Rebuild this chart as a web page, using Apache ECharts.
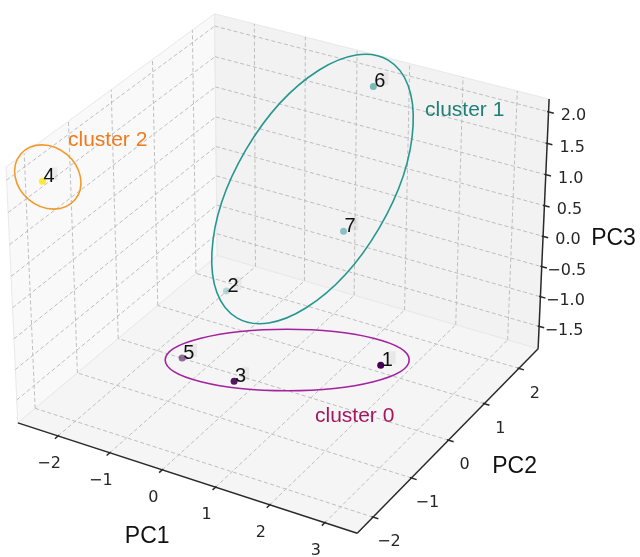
<!DOCTYPE html>
<html>
<head>
<meta charset="utf-8">
<script src="https://cdn.jsdelivr.net/npm/echarts@6/dist/echarts.min.js"></script>
<style>
html,body{margin:0;padding:0;background:#ffffff;}
#chart{width:640px;height:557px;}
</style>
</head>
<body>
<div id="chart"></div>
<script>
// ---------------- data ----------------
const pointLabels = ['1', '2', '3', '4', '5', '6', '7'];
const pc1 = [3.18, -1.74, 0.93, -2.39, -1.14, 0.54, 0.41];
const pc2 = [-1.28, 1.45, -1.84, -2.08, -0.46, 2.25, 1.67];
const pc3 = [-0.01, -1.62, -0.53, 1.91, -1.51, 1.89, -0.20];
const clusterOf = [0, 1, 0, 2, 0, 1, 1];
const clusterNames = ['cluster 0', 'cluster 1', 'cluster 2'];

const pc1Lim = [-2.79, 3.58];
const pc2Lim = [-2.40, 2.57];
const pc3Lim = [-1.88, 2.20];

const pc1Ticks = [-2, -1, 0, 1, 2, 3];
const pc2Ticks = [-2, -1, 0, 1, 2];
const pc3Ticks = [-1.5, -1, -0.5, 0, 0.5, 1, 1.5, 2];
const pc1TickLabels = ['\u22122', '\u22121', '0', '1', '2', '3'];
const pc2TickLabels = ['\u22122', '\u22121', '0', '1', '2'];
const pc3TickLabels = ['\u22121.5', '\u22121.0', '\u22120.5', '0.0', '0.5', '1.0', '1.5', '2.0'];
const axisNames = ['PC1', 'PC2', 'PC3'];

// ---------------- 3D view (matplotlib-like camera) ----------------
const DEG = Math.PI / 180;
const VIEW = { elev: 30, azim: -60, dist: 10 };
const BOX_ASPECT = [4, 4, 3];
const PX_SCALE = 3403, PX_CX = 282.6, PX_CY = 261.5;

const boxNorm = 1.8294640721620434 / Math.hypot(BOX_ASPECT[0], BOX_ASPECT[1], BOX_ASPECT[2]);
const BOX = BOX_ASPECT.map(v => v * boxNorm);
const eR = VIEW.elev * DEG, aR = VIEW.azim * DEG;
const W = [Math.cos(eR) * Math.cos(aR), Math.cos(eR) * Math.sin(aR), Math.sin(eR)];
let U = [-W[1], W[0], 0];
const un = Math.hypot(U[0], U[1], U[2]);
U = U.map(v => v / un);
const V = [W[1] * U[2] - W[2] * U[1], W[2] * U[0] - W[0] * U[2], W[0] * U[1] - W[1] * U[0]];
const LIMS = [pc1Lim, pc2Lim, pc3Lim];
const dot = (a, b) => a[0] * b[0] + a[1] * b[1] + a[2] * b[2];

function proj(p) {
  const q = p.map((v, i) => ((v - LIMS[i][0]) / (LIMS[i][1] - LIMS[i][0]) - 0.5) * BOX[i]);
  const d = dot(W, q);
  const den = VIEW.dist - d;
  return [PX_CX + PX_SCALE * dot(U, q) / den, PX_CY - PX_SCALE * dot(V, q) / den, d];
}

const [x0, x1] = pc1Lim, [y0, y1] = pc2Lim, [z0, z1] = pc3Lim;
const DX = (x1 - x0) / 12, DY = (y1 - y0) / 12;

// panes
const panes = [
  { pts: [[x0, y0, z0], [x0, y1, z0], [x0, y1, z1], [x0, y0, z1]], color: '#f9f9f9' },
  { pts: [[x0, y1, z0], [x1, y1, z0], [x1, y1, z1], [x0, y1, z1]], color: '#f2f2f2' },
  { pts: [[x0, y0, z0], [x1, y0, z0], [x1, y1, z0], [x0, y1, z0]], color: '#f5f5f5' }
];
const paneProj = panes.map(p => p.pts.map(pt => proj(pt).slice(0, 2)));

// grid polylines -> segments
function segsOf(poly) {
  const out = [];
  for (let i = 0; i < poly.length - 1; i++) {
    const a = proj(poly[i]), b = proj(poly[i + 1]);
    out.push([a[0], a[1], b[0], b[1]]);
  }
  return out;
}
let gridSegs = [];
pc1Ticks.forEach(t => { gridSegs = gridSegs.concat(segsOf([[t, y0, z0], [t, y1, z0], [t, y1, z1]])); });
pc2Ticks.forEach(t => { gridSegs = gridSegs.concat(segsOf([[x1, t, z0], [x0, t, z0], [x0, t, z1]])); });
pc3Ticks.forEach(t => { gridSegs = gridSegs.concat(segsOf([[x0, y0, t], [x0, y1, t], [x1, y1, t]])); });

// axis lines + tick marks
let axisSegs = [];
axisSegs = axisSegs.concat(segsOf([[x0, y0, z0], [x1, y0, z0]]));
axisSegs = axisSegs.concat(segsOf([[x1, y0, z0], [x1, y1, z0]]));
axisSegs = axisSegs.concat(segsOf([[x1, y1, z0], [x1, y1, z1]]));
pc1Ticks.forEach(t => { axisSegs = axisSegs.concat(segsOf([[t, y0 + 0.05 * DY, z0], [t, y0 - 0.18 * DY, z0]])); });
pc2Ticks.forEach(t => { axisSegs = axisSegs.concat(segsOf([[x1 - 0.05 * DX, t, z0], [x1 + 0.18 * DX, t, z0]])); });
pc3Ticks.forEach(t => { axisSegs = axisSegs.concat(segsOf([[x1 - 0.05 * DX, y1, t], [x1 + 0.18 * DX, y1, t]])); });

// tick labels (text at projected tick + screen offset)
const tickTexts = [];
pc1Ticks.forEach((t, i) => { const p = proj([t, y0, z0]); tickTexts.push([p[0] - 9, p[1] + 28, pc1TickLabels[i]]); });
pc2Ticks.forEach((t, i) => { const p = proj([x1, t, z0]); tickTexts.push([p[0] + 16, p[1] + 25, pc2TickLabels[i]]); });
pc3Ticks.forEach((t, i) => { const p = proj([x1, y1, t]); tickTexts.push([p[0] + 25, p[1] + 4, pc3TickLabels[i]]); });

// axis titles
const titleTexts = [];
(function () {
  const m1 = proj([(x0 + x1) / 2, y0, z0]);
  const m2 = proj([x1, (y0 + y1) / 2, z0]);
  const m3 = proj([x1, y1, (z0 + z1) / 2]);
  titleTexts.push([m1[0] - 36, m1[1] + 60, axisNames[0]]);
  titleTexts.push([m2[0] + 63, m2[1] + 30, axisNames[1]]);
  titleTexts.push([m3[0] + 70, m3[1] + 12, axisNames[2]]);
})();

// points with depth shading
const clusterColors = ['#440154', '#21918c', '#fde725'];
const ptProj = pc1.map((v, i) => proj([pc1[i], pc2[i], pc3[i]]));
const depths = ptProj.map(p => p[2]);
const dMax = Math.max.apply(null, depths), dMin = Math.min.apply(null, depths);
const pointData = ptProj.map((p, i) => ({
  value: [p[0], p[1]],
  name: pointLabels[i],
  itemStyle: { color: clusterColors[clusterOf[i]], opacity: 1 - 0.7 * (dMax - p[2]) / (dMax - dMin) }
}));
const pointLabelData = ptProj.map((p, i) => [p[0], p[1], pointLabels[i]]);

// ---------------- chart ----------------
const chart = echarts.init(document.getElementById('chart'), null, { renderer: 'canvas' });

function segSeries(segs, style, z) {
  return {
    type: 'custom', coordinateSystem: 'cartesian2d', silent: true, z: z, clip: false,
    data: segs,
    renderItem: function (params, api) {
      const a = api.coord([api.value(0), api.value(1)]);
      const b = api.coord([api.value(2), api.value(3)]);
      return { type: 'line', shape: { x1: a[0], y1: a[1], x2: b[0], y2: b[1] }, style: Object.assign({ fill: null }, style) };
    }
  };
}
function textSeries(items, font, color, z) {
  return {
    type: 'custom', coordinateSystem: 'cartesian2d', silent: true, z: z, clip: false,
    data: items.map(t => [t[0], t[1]]),
    renderItem: function (params, api) {
      const c = api.coord([api.value(0), api.value(1)]);
      return {
        type: 'text', x: c[0], y: c[1],
        style: { text: items[params.dataIndex][2], font: font, fill: color, align: 'center', verticalAlign: 'middle' }
      };
    }
  };
}

const option = {
  animation: false,
  backgroundColor: '#ffffff',
  grid: { left: 0, right: 0, top: 0, bottom: 0 },
  xAxis: { type: 'value', min: 0, max: 640, show: false },
  yAxis: { type: 'value', min: 0, max: 557, inverse: true, show: false },
  series: [
    {
      type: 'custom', coordinateSystem: 'cartesian2d', silent: true, z: 1, clip: false,
      data: panes.map((p, i) => [i]),
      renderItem: function (params, api) {
        const i = params.dataIndex;
        return {
          type: 'polygon',
          shape: { points: paneProj[i].map(pt => api.coord(pt)) },
          style: { fill: panes[i].color, stroke: '#e9e9e9', lineWidth: 1 }
        };
      }
    },
    segSeries(gridSegs, { stroke: '#b8b8b8', lineWidth: 0.9, lineDash: [4, 2.5] }, 2),
    segSeries(axisSegs, { stroke: '#2a2a2a', lineWidth: 1.5 }, 3),
    textSeries(tickTexts, '16px "DejaVu Sans"', '#262626', 4),
    textSeries(titleTexts, '23px "Liberation Sans"', '#111111', 4),
    {
      type: 'scatter', z: 5, silent: true, symbol: 'circle', symbolSize: 7,
      data: pointData
    },
    {
      type: 'custom', coordinateSystem: 'cartesian2d', silent: true, z: 6, clip: false,
      data: pointLabelData.map(t => [t[0], t[1]]),
      renderItem: function (params, api) {
        const c = api.coord([api.value(0), api.value(1)]);
        return {
          type: 'group',
          children: [
            { type: 'rect', shape: { x: c[0] + 7.5, y: c[1] - 14, width: 7.5, height: 13 }, style: { fill: 'rgba(0,0,0,0.05)' } },
            { type: 'text', x: c[0] + 1, y: c[1] - 5,
              style: { text: pointLabelData[params.dataIndex][2], font: '20px "Liberation Sans"', fill: '#111111', align: 'left', verticalAlign: 'middle' } }
          ]
        };
      }
    }
  ],
  graphic: [
    { type: 'ellipse', z: 100, silent: true, x: 287.2, y: 360, rotation: 0,
      shape: { cx: 0, cy: 0, rx: 122, ry: 30.7 }, style: { fill: null, stroke: '#a3229e', lineWidth: 1.6 } },
    { type: 'ellipse', z: 100, silent: true, x: 312.5, y: 189, rotation: 59.6 * DEG,
      shape: { cx: 0, cy: 0, rx: 149.4, ry: 77.3 }, style: { fill: null, stroke: '#25978f', lineWidth: 1.6 } },
    { type: 'ellipse', z: 100, silent: true, x: 47.8, y: 177, rotation: -40 * DEG,
      shape: { cx: 0, cy: 0, rx: 35.5, ry: 29.5 }, style: { fill: null, stroke: '#f39a2e', lineWidth: 1.6 } },
    { type: 'text', z: 100, silent: true, x: 315, y: 427,
      style: { text: clusterNames[0], font: '21px "Liberation Sans"', fill: '#a3175f', align: 'left', verticalAlign: 'bottom' } },
    { type: 'text', z: 100, silent: true, x: 425, y: 121,
      style: { text: clusterNames[1], font: '21px "Liberation Sans"', fill: '#1e7f76', align: 'left', verticalAlign: 'bottom' } },
    { type: 'text', z: 100, silent: true, x: 68, y: 151,
      style: { text: clusterNames[2], font: '21px "Liberation Sans"', fill: '#f07a1e', align: 'left', verticalAlign: 'bottom' } }
  ]
};
chart.setOption(option);
</script>
</body>
</html>
